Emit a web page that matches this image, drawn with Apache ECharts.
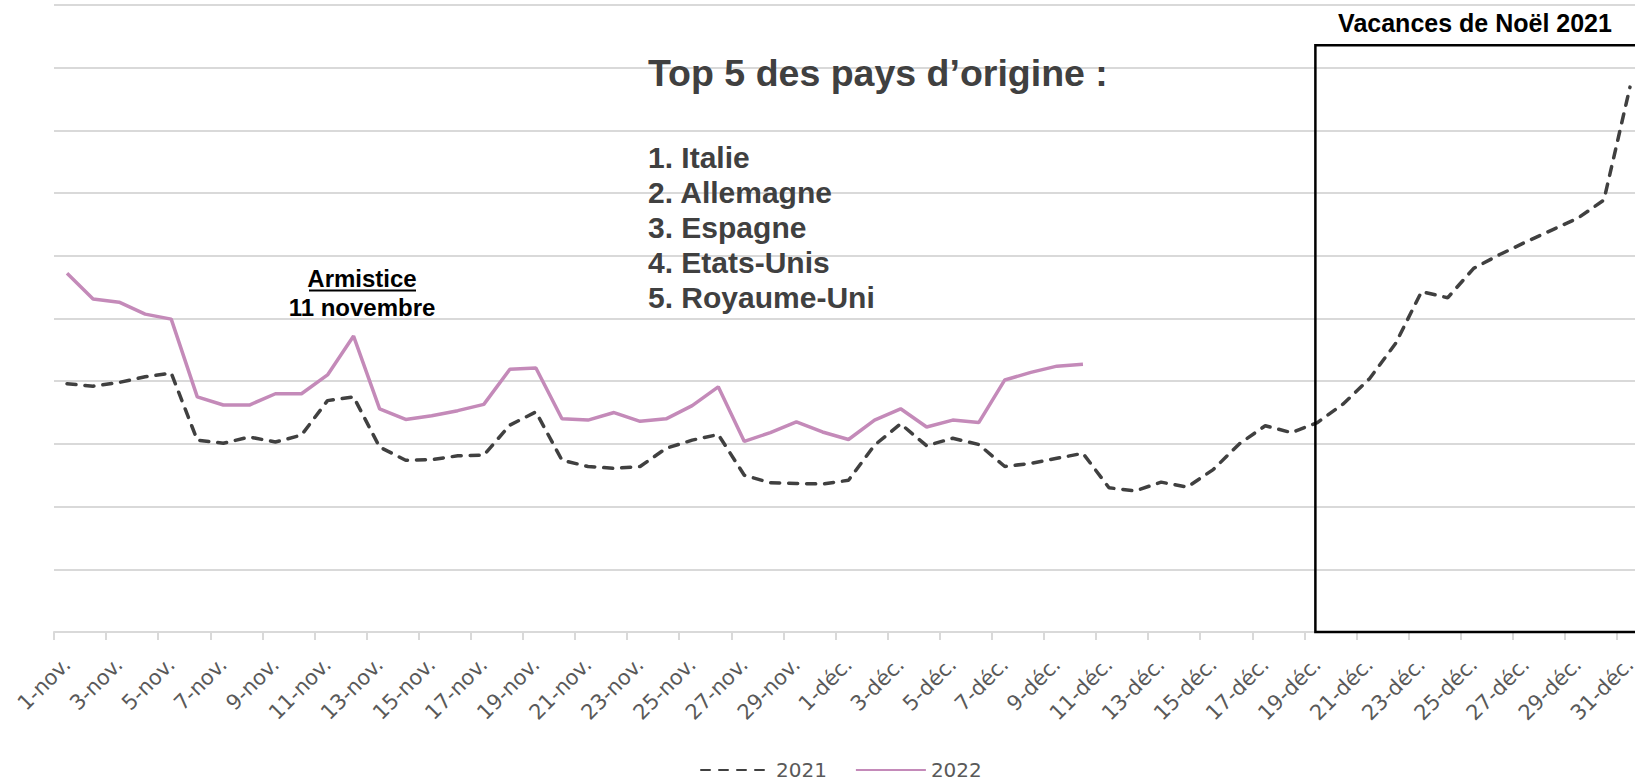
<!DOCTYPE html>
<html>
<head>
<meta charset="utf-8">
<script src="https://cdn.jsdelivr.net/npm/echarts@6/dist/echarts.min.js"></script>
<style>
html,body{margin:0;padding:0;background:#fff;}
#chart{width:1635px;height:782px;}
</style>
</head>
<body>
<div id="chart"></div>
<script>
const categories = [
  '1-nov.','2-nov.','3-nov.','4-nov.','5-nov.','6-nov.','7-nov.','8-nov.','9-nov.','10-nov.',
  '11-nov.','12-nov.','13-nov.','14-nov.','15-nov.','16-nov.','17-nov.','18-nov.','19-nov.','20-nov.',
  '21-nov.','22-nov.','23-nov.','24-nov.','25-nov.','26-nov.','27-nov.','28-nov.','29-nov.','30-nov.',
  '1-déc.','2-déc.','3-déc.','4-déc.','5-déc.','6-déc.','7-déc.','8-déc.','9-déc.','10-déc.',
  '11-déc.','12-déc.','13-déc.','14-déc.','15-déc.','16-déc.','17-déc.','18-déc.','19-déc.','20-déc.',
  '21-déc.','22-déc.','23-déc.','24-déc.','25-déc.','26-déc.','27-déc.','28-déc.','29-déc.','30-déc.',
  '31-déc.'
];
const series2021 = [
  3.96, 3.92, 3.98, 4.07, 4.13, 3.06, 3.01, 3.11, 3.03, 3.14,
  3.69, 3.75, 2.95, 2.74, 2.75, 2.81, 2.82, 3.30, 3.51, 2.74,
  2.64, 2.61, 2.64, 2.93, 3.06, 3.15, 2.50, 2.38, 2.37, 2.36,
  2.42, 2.98, 3.32, 2.97, 3.09, 2.99, 2.64, 2.69, 2.77, 2.85,
  2.30, 2.25, 2.39, 2.31, 2.59, 3.00, 3.29, 3.18, 3.34, 3.64,
  4.04, 4.60, 5.43, 5.33, 5.80, 6.02, 6.22, 6.41, 6.60, 6.89,
  8.69
];
const series2022 = [
  5.72, 5.31, 5.26, 5.07, 4.99, 3.75, 3.62, 3.62, 3.80, 3.80,
  4.10, 4.72, 3.56, 3.39, 3.45, 3.53, 3.63, 4.19, 4.21, 3.40,
  3.38, 3.50, 3.36, 3.40, 3.61, 3.91, 3.04, 3.18, 3.35, 3.19,
  3.07, 3.38, 3.56, 3.27, 3.38, 3.34, 4.02, 4.14, 4.24, 4.27
];
const seriesNames = ['2021', '2022'];
const topTitle = 'Top 5 des pays d’origine :';
const topCountries = ['1. Italie', '2. Allemagne', '3. Espagne', '4. Etats-Unis', '5. Royaume-Uni'];
const holidayLabel = 'Vacances de Noël 2021';
const holidayStart = '19-déc.';
const holidayTop = 9.36;

const boldFont = '"Liberation Sans", Arial, sans-serif';
const lightFont = '"DejaVu Sans ExtraLight", "DejaVu Sans", sans-serif';

const chart = echarts.init(document.getElementById('chart'), null, {renderer: 'svg'});
chart.setOption({
  animation: false,
  backgroundColor: '#ffffff',
  grid: {left: 54, width: 1589, top: 5, bottom: 150, containLabel: false, outerBoundsMode: 'none'},
  xAxis: {
    type: 'category',
    data: categories,
    boundaryGap: true,
    axisLine: {lineStyle: {color: '#d9d9d9', width: 2}},
    axisTick: {show: true, interval: 1, length: 8, lineStyle: {color: '#d9d9d9', width: 2}},
    axisLabel: {
      interval: 1, rotate: 45, margin: 29,
      fontFamily: lightFont, fontSize: 21, color: '#595959'
    },
    splitLine: {show: false}
  },
  yAxis: {
    type: 'value', min: 0, max: 10, interval: 1,
    axisLine: {show: false}, axisTick: {show: false}, axisLabel: {show: false},
    splitLine: {lineStyle: {color: '#d9d9d9', width: 2}}
  },
  legend: {
    data: seriesNames,
    left: 695, top: 755,
    itemWidth: 70, itemHeight: 14, itemGap: 28,
    itemStyle: {opacity: 0},
    textStyle: {fontFamily: lightFont, fontSize: 20, color: '#595959'}
  },
  series: [
    {
      name: seriesNames[0], type: 'line', data: series2021,
      symbol: 'none', smooth: false,
      lineStyle: {color: '#404040', width: 3.5, type: [9, 9], cap: 'round'},
      itemStyle: {color: '#404040'}
    },
    {
      name: seriesNames[1], type: 'line', data: series2022,
      symbol: 'none', smooth: false,
      lineStyle: {color: '#c48ab9', width: 3.5},
      itemStyle: {color: '#c48ab9'}
    }
  ]
});

// annotations laid out relative to the axes
const boxLeft = chart.convertToPixel({xAxisIndex: 0}, holidayStart) - 2;
const boxTop = chart.convertToPixel({yAxisIndex: 0}, holidayTop);
const boxBottom = chart.convertToPixel({yAxisIndex: 0}, 0);

const graphics = [
  {
    type: 'rect', silent: true, z: 10,
    shape: {x: boxLeft, y: boxTop, width: 1635 - boxLeft + 40, height: boxBottom - boxTop},
    style: {fill: 'none', stroke: '#000', lineWidth: 2.5}
  },
  {
    type: 'text', z: 11, x: 1475, y: 23,
    style: {text: holidayLabel, fontFamily: boldFont, fontWeight: 'bold', fontSize: 25, fill: '#000', align: 'center', verticalAlign: 'middle'}
  },
  {
    type: 'text', z: 11, x: 362, y: 278,
    style: {text: 'Armistice', fontFamily: boldFont, fontWeight: 'bold', fontSize: 24, fill: '#000', align: 'center', verticalAlign: 'middle'}
  },
  {
    type: 'line', z: 11, silent: true,
    shape: {x1: 309, y1: 290.5, x2: 416, y2: 290.5},
    style: {stroke: '#000', lineWidth: 2}
  },
  {
    type: 'text', z: 11, x: 362, y: 307,
    style: {text: '11 novembre', fontFamily: boldFont, fontWeight: 'bold', fontSize: 24, fill: '#000', align: 'center', verticalAlign: 'middle'}
  },
  {
    type: 'text', z: 11, x: 648, y: 73,
    style: {text: topTitle, fontFamily: boldFont, fontWeight: 'bold', fontSize: 37.5, fill: '#404040', align: 'left', verticalAlign: 'middle'}
  }
];
topCountries.forEach(function (t, k) {
  graphics.push({
    type: 'text', z: 11, x: 648, y: 157 + k * 35,
    style: {text: t, fontFamily: boldFont, fontWeight: 'bold', fontSize: 30, fill: '#404040', align: 'left', verticalAlign: 'middle'}
  });
});
chart.setOption({graphic: graphics});
</script>
</body>
</html>
